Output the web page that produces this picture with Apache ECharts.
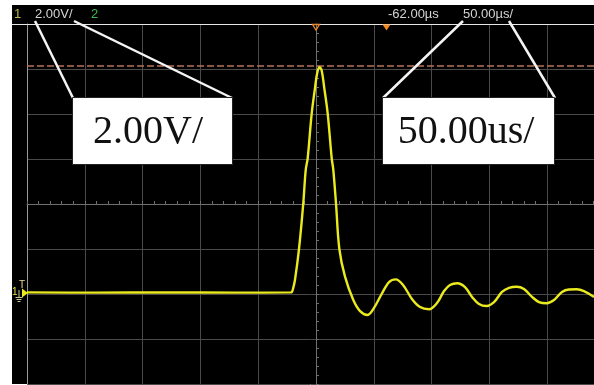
<!DOCTYPE html>
<html><head><meta charset="utf-8">
<script src="https://cdn.jsdelivr.net/npm/echarts@6/dist/echarts.min.js"></script>
<style>
html,body{margin:0;padding:0;background:#fff;width:594px;height:385px;overflow:hidden}
#bg{position:absolute;left:12px;top:5px;width:582px;height:379px;background:#000}
#c{position:absolute;left:0;top:0;width:594px;height:385px}
</style>
</head><body><div id="bg"></div><div id="c"></div>
<script>
// Time in microseconds from the left edge of the screen (50 us/div; the screen is cropped at the right)
const timeUs = [0, 60, 120, 180, 228, 229.0, 230.1, 231.8, 235.3, 239.0, 241.1, 242.8, 246.3, 249.1, 250.9, 252.9, 254.8, 257.2, 260.1, 263.6, 265.0, 267.3, 270.2, 275.1, 282.3, 288.1, 294.7, 300.2, 306.8, 313.2, 319.0, 325.3, 333.0, 340.0, 347.8, 354.7, 360.8, 365.9, 372.2, 378.9, 385.0, 391.0, 397.7, 404.0, 410.9, 417.0, 423.6, 429.9, 436.9, 442.9, 449.6, 455.9, 462.8, 468.9, 475.5, 481.8, 490.5];
// Channel 1 voltage (2 V/div)
const volts = [0.07, 0.06, 0.07, 0.06, 0.07, 0.08, 0.22, 0.62, 2.0, 4.03, 5.51, 6.03, 8.03, 9.14, 9.78, 10.08, 9.96, 9.14, 8.03, 6.03, 5.51, 4.03, 2.0, 0.77, -0.27, -0.76, -0.93, -0.62, 0.0, 0.53, 0.65, 0.4, -0.22, -0.58, -0.68, -0.40, 0.13, 0.4, 0.48, 0.31, -0.13, -0.44, -0.53, -0.36, 0.09, 0.27, 0.32, 0.22, -0.13, -0.36, -0.41, -0.27, 0.09, 0.2, 0.21, 0.13, -0.13];
const triggerLevel = 10.13;
const headerLeft = ['1', '2.00V/', '2'];
const headerRight = ['-62.00µs', '50.00µs/'];
const calloutLabels = ['2.00V/', '50.00us/'];

const chart = echarts.init(document.getElementById('c'), null, {renderer: 'canvas'});
const gridRect = {left: 27, top: 24, right: 0, height: 360, show: false};
const gridCol = '#4a4a4a';
const centerCol = '#707070';
const hdrFont = '13px "Liberation Sans", Arial, sans-serif';
const white = '#f4f4f4';

chart.setOption({
  backgroundColor: 'transparent',
  animation: false,
  grid: [Object.assign({}, gridRect), Object.assign({}, gridRect)],
  xAxis: [
    {gridIndex: 0, type: 'value', min: 0, max: 490.5, interval: 50,
     axisLine: {show: false}, axisTick: {show: false}, axisLabel: {show: false},
     splitLine: {show: true, lineStyle: {color: gridCol, width: 1}}},
    {gridIndex: 1, type: 'value', min: -250, max: 240.5, interval: 10,
     axisLine: {show: true, onZero: true, lineStyle: {color: centerCol, width: 1}},
     axisTick: {show: true, length: 3, inside: true, lineStyle: {color: centerCol}},
     axisLabel: {show: false}, splitLine: {show: false}}
  ],
  yAxis: [
    {gridIndex: 0, type: 'value', min: -4, max: 12, interval: 2,
     axisLine: {show: true, lineStyle: {color: '#9a9a9a', width: 1}},
     axisTick: {show: false}, axisLabel: {show: false},
     splitLine: {show: true, lineStyle: {color: gridCol, width: 1}}},
    {gridIndex: 1, type: 'value', min: -8, max: 8, interval: 0.4,
     axisLine: {show: true, onZero: true, lineStyle: {color: centerCol, width: 1}},
     axisTick: {show: true, length: 3, inside: true, lineStyle: {color: centerCol}},
     axisLabel: {show: false}, splitLine: {show: false}}
  ],
  series: [{
    type: 'line', xAxisIndex: 0, yAxisIndex: 0,
    data: timeUs.map((t, i) => [t, volts[i]]),
    showSymbol: false, smooth: 0.35,
    lineStyle: {color: '#eaea1e', width: 2.4},
    z: 5,
    markLine: {
      silent: true, symbol: ['none', 'none'], label: {show: false},
      lineStyle: {color: '#b8715a', type: [7, 3], width: 1.5},
      data: [{yAxis: triggerLevel}]
    }
  }],
  graphic: [
    {type: 'line', shape: {x1: 12, y1: 24.5, x2: 594, y2: 24.5}, style: {stroke: '#e6e6e6', lineWidth: 1}, z: 50},
    {type: 'text', x: 14, y: 14, style: {text: headerLeft[0], font: hdrFont, fill: '#b9b94a', verticalAlign: 'middle'}, z: 50},
    {type: 'text', x: 35, y: 14, style: {text: headerLeft[1], font: hdrFont, fill: '#d4d4d4', verticalAlign: 'middle'}, z: 50},
    {type: 'text', x: 91, y: 14, style: {text: headerLeft[2], font: hdrFont, fill: '#3fb94a', verticalAlign: 'middle'}, z: 50},
    {type: 'text', x: 388, y: 14, style: {text: headerRight[0], font: hdrFont, fill: '#d4d4d4', verticalAlign: 'middle'}, z: 50},
    {type: 'text', x: 463, y: 14, style: {text: headerRight[1], font: hdrFont, fill: '#d4d4d4', verticalAlign: 'middle'}, z: 50},
    // trigger position markers
    {type: 'polygon', shape: {points: [[312.5, 24.5], [319.5, 24.5], [316, 30]]}, style: {fill: 'none', stroke: '#e8892e', lineWidth: 1.3}, z: 50},
    {type: 'polygon', shape: {points: [[382.5, 24.5], [390.5, 24.5], [386.5, 30.5]]}, style: {fill: '#f08a20'}, z: 50},
    // channel 1 markers on the left
    {type: 'text', x: 19, y: 285, style: {text: 'T', font: '10px "Liberation Sans", sans-serif', fill: '#e6d89a', verticalAlign: 'middle'}, z: 50},
    {type: 'text', x: 12, y: 292, style: {text: '1', font: '10px "Liberation Sans", sans-serif', fill: '#e0e040', verticalAlign: 'middle'}, z: 50},
    {type: 'polygon', shape: {points: [[22, 288.5], [28, 293], [22, 297.5]]}, style: {fill: '#eaea1e'}, z: 50},
    {type: 'polyline', shape: {points: [[19, 290], [19, 297]]}, style: {stroke: '#c8c890', lineWidth: 1}, z: 50},
    {type: 'polyline', shape: {points: [[15.5, 297.5], [22.5, 297.5]]}, style: {stroke: '#c8c890', lineWidth: 1}, z: 50},
    {type: 'polyline', shape: {points: [[16.5, 299.5], [21.5, 299.5]]}, style: {stroke: '#c8c890', lineWidth: 1}, z: 50},
    {type: 'polyline', shape: {points: [[17.5, 301.5], [20.5, 301.5]]}, style: {stroke: '#c8c890', lineWidth: 1}, z: 50},
    // callout lines
    {type: 'line', shape: {x1: 35, y1: 21, x2: 73, y2: 98}, style: {stroke: white, lineWidth: 2.5}, z: 60},
    {type: 'line', shape: {x1: 74, y1: 21, x2: 232, y2: 98}, style: {stroke: white, lineWidth: 2.5}, z: 60},
    {type: 'line', shape: {x1: 463, y1: 21, x2: 383, y2: 98}, style: {stroke: white, lineWidth: 2.5}, z: 60},
    {type: 'line', shape: {x1: 509, y1: 21, x2: 555, y2: 98}, style: {stroke: white, lineWidth: 2.5}, z: 60},
    // callout boxes
    {type: 'rect', shape: {x: 72.5, y: 97.5, width: 160, height: 67}, style: {fill: '#ffffff', stroke: '#222', lineWidth: 1}, z: 61},
    {type: 'text', x: 148, y: 132, style: {text: calloutLabels[0], font: '40px "Liberation Serif", "Times New Roman", serif', fill: '#111', align: 'center', verticalAlign: 'middle'}, z: 62},
    {type: 'rect', shape: {x: 382.5, y: 97.5, width: 172, height: 67}, style: {fill: '#ffffff', stroke: '#222', lineWidth: 1}, z: 61},
    {type: 'text', x: 466, y: 132, style: {text: calloutLabels[1], font: '40px "Liberation Serif", "Times New Roman", serif', fill: '#111', align: 'center', verticalAlign: 'middle'}, z: 62}
  ]
});
</script>
</body></html>
